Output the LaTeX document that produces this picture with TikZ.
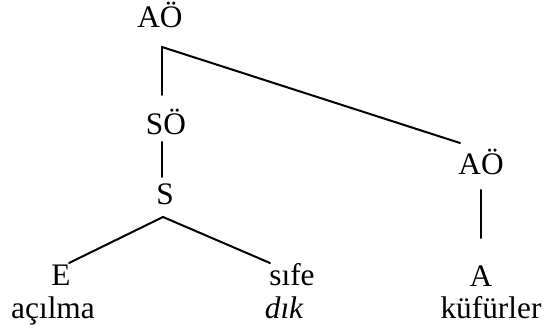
\documentclass[tikz,border=0pt]{standalone}
\usepackage{fontspec}
\setmainfont{Liberation Serif}

\tikzset{
  lbl/.style={anchor=base, inner sep=0pt, font=\fontsize{23.5}{28}\selectfont},
  branch/.style={line width=1.5pt, line cap=round},
}

\begin{document}
\begin{tikzpicture}[x=0.75pt, y=-0.75pt]
  \useasboundingbox (0,0) rectangle (546,334);
  % labels of the tree
  \node[lbl] (aoTop) at (160,28) {AÖ};
  \node[lbl] (so) at (166,135) {SÖ};
  \node[lbl] (s) at (165,205) {S};
  \node[lbl] (e) at (61,286) {E};
  \node[lbl] (sife) at (292,286) {sıfe};
  \node[lbl] (aoRight) at (481,175) {AÖ};
  \node[lbl] (a) at (481,287) {A};
  \node[lbl] (acilma) at (53,319) {açılma};
  \node[lbl] (dik) at (284,319) {\itshape dık};
  \node[lbl] (kufurler) at (491,319) {küfürler};
  % branches
  \draw[branch] ([shift={(1.5pt,-14.25pt)}]aoTop.base) -- ([shift={(-3pt,30pt)}]so.base);
  \draw[branch] ([shift={(1.5pt,-14.25pt)}]aoTop.base) -- ([shift={(-15.75pt,24pt)}]aoRight.base);
  \draw[branch] ([shift={(-3pt,-5.25pt)}]so.base) -- ([shift={(-2.25pt,21pt)}]s.base);
  \draw[branch] ([shift={(-1.5pt,-9pt)}]s.base) -- ([shift={(6pt,17.25pt)}]e.base);
  \draw[branch] ([shift={(-1.5pt,-9pt)}]s.base) -- ([shift={(-16.5pt,17.25pt)}]sife.base);
  \draw[branch] ([shift={(0pt,-11.25pt)}]aoRight.base) -- ([shift={(0pt,36.75pt)}]a.base);
\end{tikzpicture}
\end{document}
